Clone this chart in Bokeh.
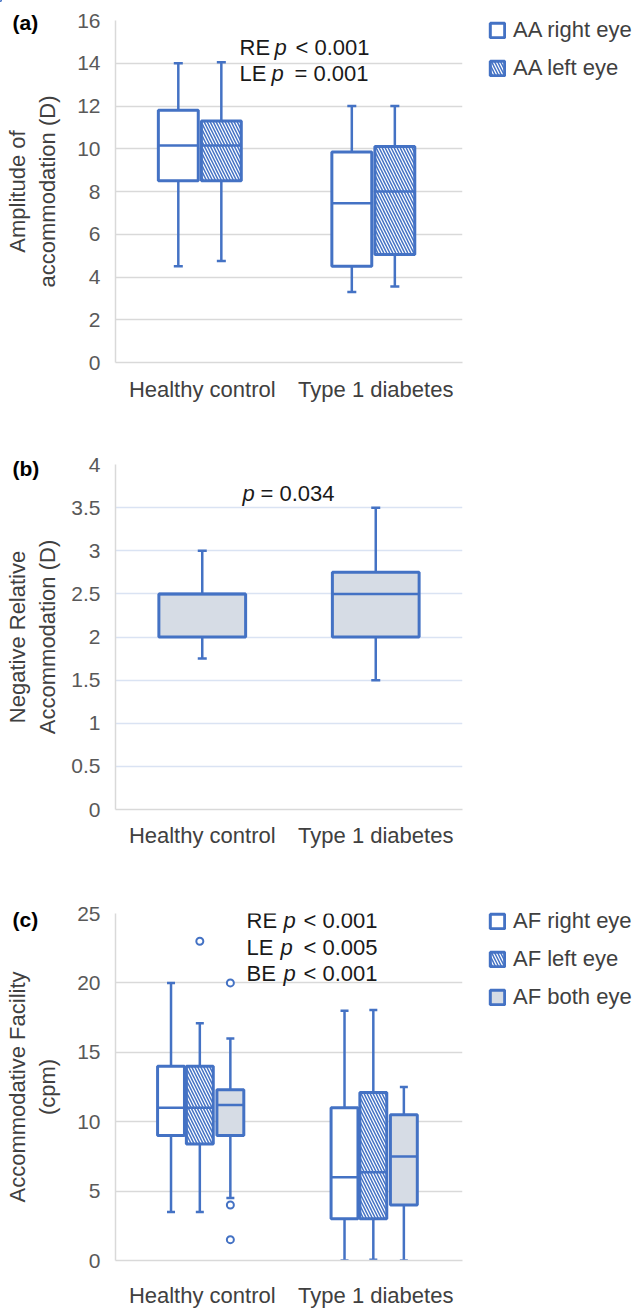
from bokeh.plotting import figure
from bokeh.models import (FactorRange, Range1d, FixedTicker, Legend, LegendItem,
                          Label, ColumnDataSource, GridBox)
from bokeh.transform import dodge
from bokeh.layouts import column
from bokeh.embed import file_html
from bokeh.resources import INLINE

# ---------------- data ----------------
categories = ["Healthy control", "Type 1 diabetes"]

# (a) Amplitude of accommodation (D)
aa_right_lower = [4.5, 3.3]
aa_right_q1 = [8.5, 4.5]
aa_right_median = [10.15, 7.45]
aa_right_q3 = [11.8, 9.85]
aa_right_upper = [14.0, 12.0]

aa_left_lower = [4.75, 3.55]
aa_left_q1 = [8.5, 5.05]
aa_left_median = [10.15, 8.0]
aa_left_q3 = [11.3, 10.1]
aa_left_upper = [14.05, 12.0]

# (b) Negative relative accommodation (D)
nra_lower = [1.75, 1.5]
nra_q1 = [2.0, 2.0]
nra_median = [2.5, 2.5]
nra_q3 = [2.5, 2.75]
nra_upper = [3.0, 3.5]

# (c) Accommodative facility (cpm)
af_right_lower = [3.5, 0.0]
af_right_q1 = [9.0, 3.0]
af_right_median = [11.0, 6.0]
af_right_q3 = [14.0, 11.0]
af_right_upper = [20.0, 18.0]

af_left_lower = [3.5, 0.05]
af_left_q1 = [8.4, 3.0]
af_left_median = [11.0, 6.35]
af_left_q3 = [14.0, 12.1]
af_left_upper = [17.1, 18.05]

af_both_lower = [4.5, 0.0]
af_both_q1 = [9.0, 4.0]
af_both_median = [11.2, 7.5]
af_both_q3 = [12.3, 10.5]
af_both_upper = [16.0, 12.5]

af_left_outlier_cat = ["Healthy control"]
af_left_outlier_val = [23.0]
af_both_outlier_cat = ["Healthy control", "Healthy control", "Healthy control"]
af_both_outlier_val = [20.0, 4.0, 1.5]

ticks_a = [0, 2, 4, 6, 8, 10, 12, 14, 16]
tick_labels_a = ["0", "2", "4", "6", "8", "10", "12", "14", "16"]
ticks_b = [0, 0.5, 1, 1.5, 2, 2.5, 3, 3.5, 4]
tick_labels_b = ["0", "0.5", "1", "1.5", "2", "2.5", "3", "3.5", "4"]
ticks_c = [0, 5, 10, 15, 20, 25]
tick_labels_c = ["0", "5", "10", "15", "20", "25"]

tag_texts = ["(a)", "(b)", "(c)"]
legend_a = ["AA right eye", "AA left eye"]
legend_c = ["AF right eye", "AF left eye", "AF both eye"]

# ---------------- style ----------------
BLUE = "#4472c4"
BOXGREY = "#d6dce5"
FONT = "Liberation Sans"
TICKC = "#595959"
TEXTC = "#404040"
W = 636
HEIGHTS = [412, 438, 460]
H = sum(HEIGHTS)
LEFT = 115
FRAME_W = 347
RIGHT = W - LEFT - FRAME_W
PX = FRAME_W / 2.0   # pixels per category unit


def make_fig(height, top, bottom, y_end, ticks, labels, grid_color, ylabel,
             label_standoff, x_standoff):
    p = figure(x_range=FactorRange(*categories), y_range=Range1d(0, y_end),
               width=W, height=height, min_border_left=LEFT,
               min_border_right=RIGHT, min_border_top=top,
               min_border_bottom=bottom, output_backend="svg",
               toolbar_location=None, tools="")
    p.outline_line_color = None
    p.background_fill_color = "white"
    p.border_fill_color = "white"
    p.xgrid.visible = False
    p.ygrid.ticker = FixedTicker(ticks=ticks)
    p.ygrid.grid_line_color = grid_color
    p.ygrid.grid_line_width = 1.5

    p.yaxis.ticker = FixedTicker(ticks=ticks)
    p.yaxis.major_label_overrides = {t: l for t, l in zip(ticks, labels)}
    p.yaxis.axis_line_color = "#d9d9d9"
    p.yaxis.axis_line_width = 1.5
    p.yaxis.major_tick_line_color = None
    p.yaxis.minor_tick_line_color = None
    p.yaxis.major_tick_out = 0
    p.yaxis.major_tick_in = 0
    p.yaxis.minor_tick_out = 0
    p.yaxis.major_label_standoff = 15
    p.yaxis.major_label_text_font = FONT
    p.yaxis.major_label_text_font_size = "21px"
    p.yaxis.major_label_text_color = TICKC
    p.yaxis.axis_label = ylabel
    p.yaxis.axis_label_text_font = FONT
    p.yaxis.axis_label_text_font_size = "22px"
    p.yaxis.axis_label_text_font_style = "normal"
    p.yaxis.axis_label_text_color = TEXTC
    p.yaxis.axis_label_text_line_height = 1.2
    p.yaxis.axis_label_standoff = label_standoff

    p.xaxis.axis_line_color = "#d9d9d9"
    p.xaxis.axis_line_width = 1.5
    p.xaxis.major_tick_line_color = None
    p.xaxis.minor_tick_line_color = None
    p.xaxis.major_tick_out = 0
    p.xaxis.major_tick_in = 0
    p.xaxis.minor_tick_out = 0
    p.xaxis.major_label_standoff = x_standoff
    p.xaxis.major_label_text_font = FONT
    p.xaxis.major_label_text_font_size = "22px"
    p.xaxis.major_label_text_color = TEXTC
    return p


BOX_STYLES = {
    "right": dict(fill_color="white", hatch_pattern=None),
    "left": dict(fill_color="white", hatch_pattern="left_diagonal_line"),
    "both": dict(fill_color=BOXGREY, hatch_pattern=None),
}


def draw_box(p, lower, q1, med, q3, upper, offset, width, style, cap=9):
    src = ColumnDataSource(dict(cat=categories, lower=lower, q1=q1, med=med,
                                q3=q3, upper=upper))
    xr = p.x_range
    xc = dodge("cat", offset, range=xr)
    p.segment(x0=xc, y0="lower", x1=xc, y1="upper", source=src,
              line_color=BLUE, line_width=2.5)
    p.scatter(x=xc, y="upper", marker="dash", size=cap, line_color=BLUE,
              line_width=2.5, source=src)
    p.scatter(x=xc, y="lower", marker="dash", size=cap, line_color=BLUE,
              line_width=2.5, source=src)
    p.vbar(x=xc, width=width, bottom="q1", top="q3", source=src,
           line_color=BLUE, line_width=3, hatch_color=BLUE, hatch_scale=6,
           hatch_weight=1.5, **BOX_STYLES[style])
    p.segment(x0=dodge("cat", offset - width / 2, range=xr), y0="med",
              x1=dodge("cat", offset + width / 2, range=xr), y1="med",
              source=src, line_color=BLUE, line_width=2.5)


def add_text(p, px, py, text, style="normal"):
    # px: pixel offset from the frame's left edge; py: data y value
    p.add_layout(Label(x=px / PX, y=py, text=text,
                       text_font=FONT, text_font_size="22px",
                       text_font_style=style, text_color="#1a1a1a",
                       text_align="left", text_baseline="middle"))


# ---------------- panel (a) ----------------
pa = make_fig(HEIGHTS[0], 20, 50, 16, ticks_a, tick_labels_a, "#d9d9d9",
              "Amplitude of\naccommodation (D)", 14, 14)
draw_box(pa, aa_right_lower, aa_right_q1, aa_right_median, aa_right_q3,
         aa_right_upper, -0.138, 0.23, "right")
draw_box(pa, aa_left_lower, aa_left_q1, aa_left_median, aa_left_q3,
         aa_left_upper, 0.11, 0.23, "left")
add_text(pa, 124, 14.74, "RE")
add_text(pa, 159, 14.74, "p", style="italic")
add_text(pa, 180, 14.74, "< 0.001")
add_text(pa, 124, 13.5, "LE")
add_text(pa, 156, 13.5, "p", style="italic")
add_text(pa, 179, 13.5, "= 0.001")

# ---------------- panel (b) ----------------
pb = make_fig(HEIGHTS[1], 52, 41, 4, ticks_b, tick_labels_b, "#dae3f3",
              "Negative Relative\nAccommodation (D)", 8, 13)
draw_box(pb, nra_lower, nra_q1, nra_median, nra_q3, nra_upper, 0.0, 0.5,
         "both")
add_text(pb, 127, 3.66, "p", style="italic")
add_text(pb, 145, 3.66, "= 0.034")

# ---------------- panel (c) ----------------
pc = make_fig(HEIGHTS[2], 63, 48, 25, ticks_c, tick_labels_c, "#d9d9d9",
              "Accommodative Facility\n(cpm)", 14, 22)
draw_box(pc, af_right_lower, af_right_q1, af_right_median, af_right_q3,
         af_right_upper, -0.18, 0.155, "right", cap=8)
draw_box(pc, af_left_lower, af_left_q1, af_left_median, af_left_q3,
         af_left_upper, -0.014, 0.155, "left", cap=8)
draw_box(pc, af_both_lower, af_both_q1, af_both_median, af_both_q3,
         af_both_upper, 0.162, 0.155, "both", cap=8)
pc.scatter(x=dodge("cat", -0.014, range=pc.x_range), y="val",
           source=ColumnDataSource(dict(cat=af_left_outlier_cat,
                                        val=af_left_outlier_val)),
           marker="circle", size=7, line_color=BLUE, line_width=2,
           fill_color="white")
pc.scatter(x=dodge("cat", 0.162, range=pc.x_range), y="val",
           source=ColumnDataSource(dict(cat=af_both_outlier_cat,
                                        val=af_both_outlier_val)),
           marker="circle", size=7, line_color=BLUE, line_width=2,
           fill_color="white")
add_text(pc, 131, 24.48, "RE")
add_text(pc, 168, 24.48, "p", style="italic")
add_text(pc, 188, 24.48, "< 0.001")
add_text(pc, 131, 22.53, "LE")
add_text(pc, 165, 22.53, "p", style="italic")
add_text(pc, 188, 22.53, "< 0.005")
add_text(pc, 131, 20.66, "BE")
add_text(pc, 168, 20.66, "p", style="italic")
add_text(pc, 188, 20.66, "< 0.001")

# ------- transparent overlay: panel tags and legends (never clipped) -------
ov = figure(width=W, height=H, x_range=Range1d(0, W), y_range=Range1d(H, 0),
            min_border=0, x_axis_type=None, y_axis_type=None,
            output_backend="svg", toolbar_location=None, tools="")
ov.outline_line_color = None
ov.background_fill_alpha = 0
ov.border_fill_alpha = 0
ov.grid.visible = False
for txt, ty in zip(tag_texts, [21.5, 468, 919]):
    ov.add_layout(Label(x=12, y=ty, text=txt, text_font=FONT,
                        text_font_size="21px", text_font_style="bold",
                        text_color="black", text_align="left",
                        text_baseline="middle"))


def legend_key(style):
    # style-only swatch renderer: its single bar lies outside the overlay's
    # visible range, so only the legend swatch is seen
    return ov.vbar(x=[-500], top=[-500], bottom=[-510], width=1,
                   line_color=BLUE, line_width=3, hatch_color=BLUE,
                   hatch_scale=6, hatch_weight=1.5, **BOX_STYLES[style])


def add_legend(labels, styles, top_y):
    items = [LegendItem(label=l, renderers=[legend_key(s)])
             for l, s in zip(labels, styles)]
    n = len(items)
    leg_h = n * 25 + (n - 1) * 12
    leg = Legend(items=items, location=(488, H - top_y - leg_h))
    leg.border_line_color = None
    leg.background_fill_alpha = 0
    leg.padding = 0
    leg.margin = 0
    leg.spacing = 12
    leg.glyph_width = 18
    leg.glyph_height = 18
    leg.label_height = 18
    leg.label_standoff = 7
    leg.label_text_font = FONT
    leg.label_text_font_size = "22px"
    leg.label_text_color = TEXTC
    ov.add_layout(leg)


add_legend(legend_a, ["right", "left"], 18.5)
add_legend(legend_c, ["right", "left", "both"], 911)

main = column(pa, pb, pc, spacing=0)
layout = GridBox(children=[(main, 0, 0), (ov, 0, 0)])
open("out.html", "w").write(file_html(layout, INLINE))
